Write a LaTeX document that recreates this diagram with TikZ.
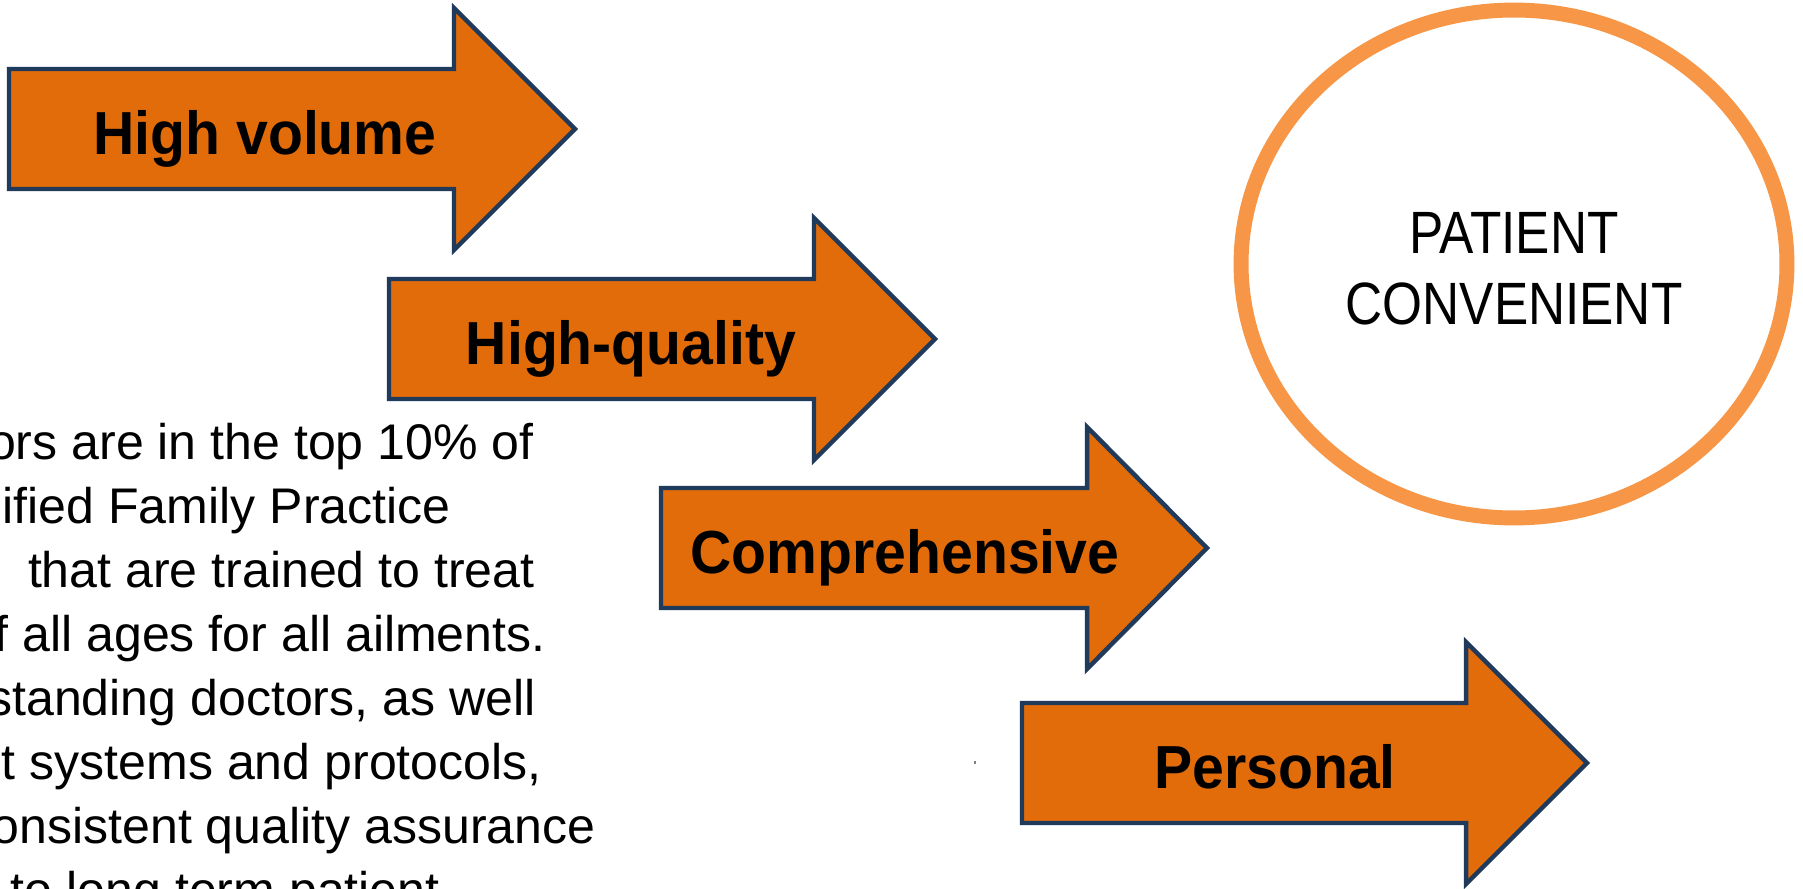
\documentclass[tikz,border=0pt]{standalone}
\usepackage{fontspec}
\setmainfont{Liberation Sans}
\newfontfamily\labelfont{Liberation Sans}[FakeStretch=0.94]
\newfontfamily\goalfont{Liberation Sans}[FakeStretch=0.86]
\usetikzlibrary{shapes.geometric}

\definecolor{arrowfill}{HTML}{E36C0A}
\definecolor{arrowline}{HTML}{1F3A5A}
\definecolor{ringline}{HTML}{F79646}

\tikzset{
  arrowbox/.style={fill=arrowfill, draw=arrowline, line width=2.55pt, line join=miter},
  arrowlabel/.style={anchor=base, inner sep=0pt, font=\labelfont\bfseries\fontsize{34.6}{40}\selectfont},
  bodyline/.style={anchor=base east, inner sep=0pt, font=\fontsize{28.5}{36}\selectfont},
  goaltext/.style={anchor=base, inner sep=0pt, font=\goalfont\fontsize{34}{40}\selectfont},
  ring/.style={ellipse, draw=ringline, line width=8.5pt, fill=white,
    minimum width=10.92cm, minimum height=10.16cm, inner sep=0pt}
}

% block arrow: left edge, centre line, head base, tip
\newcommand\blockarrow[4]{%
  \draw[arrowbox] (#1,#2-60) -- (#3,#2-60) -- (#3,#2-121) -- (#4,#2)
    -- (#3,#2+121) -- (#3,#2+60) -- (#1,#2+60) -- cycle;}

\begin{document}
\begin{tikzpicture}[x=0.02cm, y=-0.02cm]
  \useasboundingbox (0,0) rectangle (1803,889);
  \clip (0,0) rectangle (1803,889);
  \fill[white] (0,0) rectangle (1803,889);

  % text column, running off the left edge
  \node[bodyline] (t1) at (534,459) {ors are in the top 10\% of};
  \node[bodyline] (t2) at (451,523) {ified Family Practice};
  \node[bodyline] (t3) at (535,587) {that are trained to treat};
  \node[bodyline] (t4) at (546,651) {of all ages for all ailments.};
  \node[bodyline] (t5) at (536,715) {standing doctors, as well};
  \node[bodyline] (t6) at (542,779) {t systems and protocols,};
  \node[bodyline] (t7) at (596,843) {consistent quality assurance};
  \node[bodyline] (t8) at (440,907) {to long term patient};

  % staircase of block arrows
  \blockarrow{9}{129}{454}{575}
  \node[arrowlabel] (volume) at (265,154) {High volume};

  \blockarrow{389}{339}{814}{935}
  \node[arrowlabel] (quality) at (631,364) {High-quality};

  \blockarrow{661}{548}{1087}{1207}
  \node[arrowlabel] (compre) at (905,573) {Comprehensive};

  \blockarrow{1022}{763}{1466}{1587}
  \node[arrowlabel] (personal) at (1275,788) {Personal};

  % small stray mark
  \fill[gray] (974,761) rectangle (976,764);

  % goal ring
  \node[ring] (goal) at (1514,264) {};
  \node[goaltext] (goal1) at (1514,253) {PATIENT};
  \node[goaltext] (goal2) at (1514,324) {CONVENIENT};
\end{tikzpicture}
\end{document}
